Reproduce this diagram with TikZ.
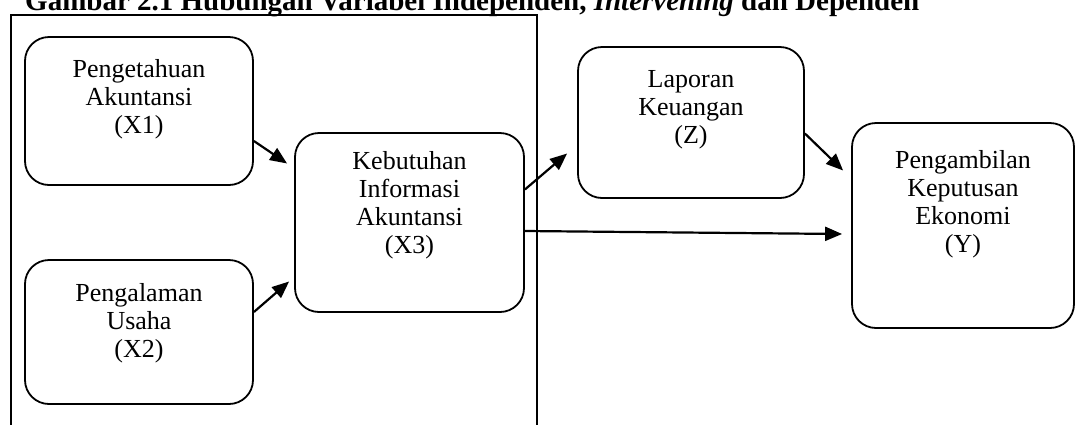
\documentclass[tikz,border=0pt]{standalone}
\usepackage{fontspec}
\setmainfont{Liberation Serif}
\usetikzlibrary{arrows.meta, positioning}

\begin{document}
\begin{tikzpicture}[
  x=1pt, y=-1pt,
  every node/.style={font=\fontsize{26}{28}\selectfont, align=center},
  box/.style={draw, line width=1.8pt, rounded corners=24pt, inner sep=0pt},
  txt/.style={inner sep=0pt},
  arr/.style={-{Triangle[length=17pt, width=14pt]}, line width=2.2pt},
]
  \useasboundingbox (0,0) rectangle (1077,424);

  \node[anchor=base west, inner sep=0pt, font=\fontsize{29}{30}\selectfont\bfseries] (judul) at (25,10)
    {Gambar 2.1 Hubungan Variabel Independen, \textit{Intervening} dan Dependen};
  \node[draw, line width=1.8pt, anchor=north west, inner sep=0pt,
        minimum width=526pt, minimum height=440pt] (kotak) at (10,14) {};

  \node[box, minimum width=228pt, minimum height=148pt] (pengetahuan) at (139,111) {};
  \node[box, minimum width=228pt, minimum height=144pt] (pengalaman)  at (139,332) {};
  \node[box, minimum width=229pt, minimum height=179pt] (kebutuhan)   at (409.5,222.5) {};
  \node[box, minimum width=226pt, minimum height=151pt] (laporan)     at (691,122.5) {};
  \node[box, minimum width=222pt, minimum height=205pt] (keputusan)   at (963,225.5) {};

  \node[txt] (pengetahuan-t) at ([yshift=12pt]pengetahuan.center) {Pengetahuan\\Akuntansi\\(X1)};
  \node[txt] (pengalaman-t)  at ([yshift=9pt]pengalaman.center)   {Pengalaman\\Usaha\\(X2)};
  \node[txt] (kebutuhan-t)   at ([yshift=17pt]kebutuhan.center)   {Kebutuhan\\Informasi\\Akuntansi\\(X3)};
  \node[txt] (laporan-t)     at ([yshift=13pt]laporan.center)     {Laporan\\Keuangan\\(Z)};
  \node[txt] (keputusan-t)   at ([yshift=21pt]keputusan.center)   {Pengambilan\\Keputusan\\Ekonomi\\(Y)};

  \draw[arr] ([yshift=-30pt]pengetahuan.east) -- ([xshift=-7pt,yshift=59pt]kebutuhan.west);
  \draw[arr] ([yshift=20pt]pengalaman.east)   -- ([xshift=-5pt,yshift=-59pt]kebutuhan.west);
  \draw[arr] ([yshift=33pt]kebutuhan.east)    -- ([xshift=-10pt,yshift=-31pt]laporan.west);
  \draw[arr] ([yshift=-8.5pt]kebutuhan.east)  -- ([xshift=-9pt,yshift=-8.5pt]keputusan.west);
  \draw[arr] ([yshift=-11pt]laporan.east)     -- ([xshift=-8pt,yshift=55pt]keputusan.west);
\end{tikzpicture}
\end{document}
